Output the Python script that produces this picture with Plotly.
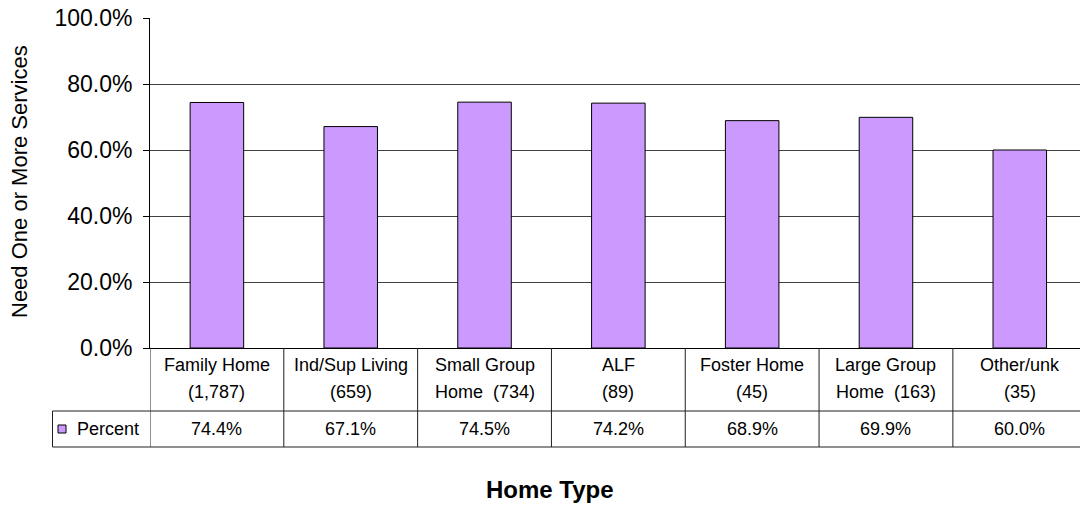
import plotly.graph_objects as go

categories = ["Family Home", "Ind/Sup Living", "Small Group Home", "ALF",
              "Foster Home", "Large Group Home", "Other/unk"]
cat_labels = ["Family Home<br>(1,787)", "Ind/Sup Living<br>(659)",
              "Small Group<br>Home\u00a0\u00a0(734)", "ALF<br>(89)",
              "Foster Home<br>(45)", "Large Group<br>Home\u00a0\u00a0(163)",
              "Other/unk<br>(35)"]
percent = [0.744, 0.671, 0.745, 0.742, 0.689, 0.699, 0.600]
series_name = "Percent"
y_title = "Need One or More Services"
x_title = "Home Type"

FONT = "Liberation Sans, Arial, sans-serif"
BAR = "#CC99FF"
GRID = "#404040"

W, H = 1080, 506
ML, MR, MT, MB = 150, 0, 18, 158
PW = W - ML - MR
PH = H - MT - MB


def px_x(x):
    return (x - ML) / PW


def px_y(y):
    return (H - MB - y) / PH


fig = go.Figure()
fig.add_trace(go.Bar(
    x=categories, y=percent, name=series_name,
    marker=dict(color=BAR, line=dict(color="black", width=1)),
    showlegend=False,
))

shapes = []
annotations = []

# table vertical lines
for i in range(len(categories) + 1):
    shapes.append(dict(type="line", xref="x", yref="paper",
                       x0=i - 0.5, x1=i - 0.5, y0=0, y1=px_y(447),
                       line=dict(color="#202020", width=1)))
# table horizontal lines
for yy in (411, 447):
    shapes.append(dict(type="line", xref="paper", yref="paper",
                       x0=px_x(52.5), x1=1.02, y0=px_y(yy), y1=px_y(yy),
                       line=dict(color="#202020", width=1)))
# legend cell left line
shapes.append(dict(type="line", xref="paper", yref="paper",
                   x0=px_x(52.5), x1=px_x(52.5), y0=px_y(411), y1=px_y(447),
                   line=dict(color="#202020", width=1)))
# legend key
shapes.append(dict(type="rect", xref="paper", yref="paper",
                   x0=px_x(58), x1=px_x(66), y0=px_y(425), y1=px_y(433),
                   fillcolor=BAR, line=dict(color="black", width=1)))
annotations.append(dict(xref="paper", yref="paper", x=px_x(75), y=px_y(429),
                        text=series_name, showarrow=False, xanchor="left",
                        yanchor="middle", font=dict(size=18, color="black", family=FONT)))

line_y = [365, 392]
for c, lab, v in zip(categories, cat_labels, percent):
    for part, yy in zip(lab.split("<br>"), line_y):
        annotations.append(dict(xref="x", yref="paper", x=c, y=px_y(yy),
                                text=part, showarrow=False, xanchor="center",
                                yanchor="middle", align="center",
                                font=dict(size=18, color="black", family=FONT)))
    annotations.append(dict(xref="x", yref="paper", x=c, y=px_y(429),
                            text=f"{v*100:.1f}%", showarrow=False,
                            xanchor="center", yanchor="middle",
                            font=dict(size=18, color="black", family=FONT)))

annotations.append(dict(xref="paper", yref="paper", x=px_x(550), y=px_y(490),
                        text=f"<b>{x_title}</b>", showarrow=False,
                        xanchor="center", yanchor="middle",
                        font=dict(size=24, color="black", family=FONT)))
annotations.append(dict(xref="paper", yref="paper", x=px_x(19), y=px_y(182),
                        text=y_title, showarrow=False, textangle=-90,
                        xanchor="center", yanchor="middle",
                        font=dict(size=22, color="black", family=FONT)))

fig.update_layout(
    width=W, height=H,
    margin=dict(l=ML, r=MR, t=MT, b=MB, pad=0),
    paper_bgcolor="white", plot_bgcolor="white",
    bargap=0.6,
    shapes=shapes, annotations=annotations,
    font=dict(family=FONT, color="black"),
    xaxis=dict(range=[-0.5, 6.45], showticklabels=False, ticks="",
               showgrid=False, showline=True, linecolor="black", linewidth=1,
               fixedrange=True),
    yaxis=dict(range=[0, 1], tickvals=[0, 0.2, 0.4, 0.6, 0.8, 1.0],
               tickformat=".1%", showgrid=True, gridcolor=GRID, gridwidth=1,
               showline=True, linecolor="black", linewidth=1,
               ticks="outside", ticklen=6, tickcolor="black",
               ticklabelstandoff=6, zeroline=False,
               tickfont=dict(size=23, color="black", family=FONT)),
)

fig.write_html("out.html")
